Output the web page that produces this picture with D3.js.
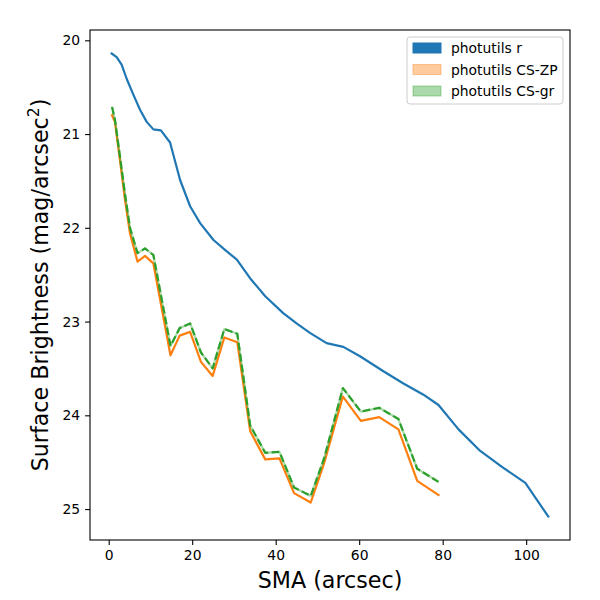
<!DOCTYPE html>
<html>
<head>
<meta charset="utf-8">
<script src="https://cdn.jsdelivr.net/npm/d3@7"></script>
<style>
body { margin: 0; background: #fff; }
text { font-family: "DejaVu Sans", sans-serif; }
</style>
</head>
<body>
<svg id="chart" width="600" height="600"></svg>
<script>
// photutils r profile
var smaR = [0.7, 1.9, 3.1, 4.3, 5.9, 7.5, 9.1, 10.7, 12.5, 14.7, 17.1, 19.5, 21.9, 25.1, 28.0, 30.7, 33.9, 37.5, 41.8, 45.0, 48.2, 52.2, 56.2, 60.2, 65.8, 70.6, 75.4, 79.0, 83.8, 89.0, 94.2, 99.8, 105.3];
var magR = [20.14, 20.18, 20.26, 20.41, 20.58, 20.74, 20.87, 20.95, 20.96, 21.09, 21.49, 21.77, 21.95, 22.13, 22.24, 22.34, 22.54, 22.73, 22.91, 23.02, 23.12, 23.23, 23.27, 23.37, 23.53, 23.66, 23.78, 23.89, 24.15, 24.38, 24.55, 24.72, 25.08];

// CS profiles
var smaCS = [0.8, 1.5, 2.7, 3.9, 5.1, 6.9, 8.7, 10.7, 14.8, 17.0, 19.5, 22.1, 24.9, 27.7, 30.8, 33.9, 37.5, 40.9, 44.4, 48.4, 51.6, 56.1, 60.4, 64.8, 69.4, 73.9, 79.0];
var magZP = [20.80, 20.87, 21.28, 21.70, 22.06, 22.36, 22.30, 22.38, 23.36, 23.15, 23.11, 23.43, 23.58, 23.17, 23.22, 24.17, 24.47, 24.46, 24.83, 24.93, 24.51, 23.80, 24.06, 24.02, 24.15, 24.70, 24.85];
var magGR = [20.71, 20.85, 21.24, 21.64, 22.00, 22.27, 22.22, 22.29, 23.26, 23.07, 23.02, 23.33, 23.50, 23.08, 23.13, 24.11, 24.40, 24.39, 24.77, 24.86, 24.46, 23.71, 23.96, 23.92, 24.04, 24.57, 24.71];

var xTicks = [0, 20, 40, 60, 80, 100];
var yTicks = [20, 21, 22, 23, 24, 25];
var legendNames = ["photutils r", "photutils CS-ZP", "photutils CS-gr"];

var svg = d3.select("#chart");
var plotL = 90, plotR = 570, plotT = 30, plotB = 540;

var x = d3.scaleLinear().domain([-4.48, 110.5]).range([plotL, plotR]);
var y = d3.scaleLinear().domain([19.89, 25.33]).range([plotT, plotB]);

var g = svg.append("g");

var line = d3.line()
    .x(function(d) { return x(d[0]); })
    .y(function(d) { return y(d[1]); });

function pairs(xs, ys) {
    return xs.map(function(v, i) { return [v, ys[i]]; });
}

// blue
g.append("path").datum(pairs(smaR, magR))
    .attr("d", line).attr("fill", "none")
    .attr("stroke", "#1f77b4").attr("stroke-width", 2.2)
    .attr("stroke-linejoin", "round").attr("stroke-linecap", "square");

// orange
g.append("path").datum(pairs(smaCS, magZP))
    .attr("d", line).attr("fill", "none")
    .attr("stroke", "#ff7f0e").attr("stroke-width", 2.2)
    .attr("stroke-linejoin", "round").attr("stroke-linecap", "square");

// green, light under line then dashed
g.append("path").datum(pairs(smaCS, magGR))
    .attr("d", line).attr("fill", "none")
    .attr("stroke", "#2ca02c").attr("stroke-opacity", 0.4).attr("stroke-width", 2.2)
    .attr("stroke-linejoin", "round");
g.append("path").datum(pairs(smaCS, magGR))
    .attr("d", line).attr("fill", "none")
    .attr("stroke", "#2ca02c").attr("stroke-width", 2.2)
    .attr("stroke-dasharray", "7.7,3.3")
    .attr("stroke-linejoin", "round");

// axes
var xAxis = d3.axisBottom(x).tickValues(xTicks).tickSize(4.9).tickPadding(4.9)
    .tickFormat(d3.format("d"));
var yAxis = d3.axisLeft(y).tickValues(yTicks).tickSize(4.9).tickPadding(4.9)
    .tickFormat(d3.format("d"));

var gx = svg.append("g").attr("transform", "translate(0," + plotB + ")").call(xAxis);
var gy = svg.append("g").attr("transform", "translate(" + plotL + ",0)").call(yAxis);
[gx, gy].forEach(function(a) {
    a.select(".domain").remove();
    a.selectAll("text").attr("font-size", 13.9).attr("fill", "#000")
        .style("font-family", "DejaVu Sans");
    a.selectAll("line").attr("stroke", "#000").attr("stroke-width", 1.1);
});

svg.append("rect").attr("x", plotL).attr("y", plotT)
    .attr("width", plotR - plotL).attr("height", plotB - plotT)
    .attr("fill", "none").attr("stroke", "#000").attr("stroke-width", 1.1);

// labels
svg.append("text").attr("x", (plotL + plotR) / 2).attr("y", 588)
    .attr("text-anchor", "middle").attr("font-size", 22.2)
    .text("SMA (arcsec)");

var yl = svg.append("text")
    .attr("transform", "translate(48," + ((plotT + plotB) / 2) + ") rotate(-90)")
    .attr("text-anchor", "middle").attr("font-size", 22.2);
yl.append("tspan").text("Surface Brightness (mag/arcsec");
yl.append("tspan").attr("font-size", 15.5).attr("dy", -9).text("2");
yl.append("tspan").attr("dy", 9).text(")");

// legend
var legColors = ["#1f77b4", "#ff7f0e", "#2ca02c"];
var legOpacity = [1, 0.4, 0.4];
var leg = svg.append("g").attr("transform", "translate(407,37)");
leg.append("rect").attr("width", 156).attr("height", 67)
    .attr("rx", 3).attr("fill", "#fff").attr("fill-opacity", 0.8)
    .attr("stroke", "#ccc").attr("stroke-width", 1);
legendNames.forEach(function(name, i) {
    var yy = 11 + i * 21.5;
    leg.append("rect").attr("x", 6).attr("y", yy - 5).attr("width", 28).attr("height", 10)
        .attr("fill", legColors[i]).attr("fill-opacity", legOpacity[i])
        .attr("stroke", legColors[i]).attr("stroke-opacity", legOpacity[i]);
    leg.append("text").attr("x", 44).attr("y", yy + 5)
        .attr("font-size", 13.9).text(name);
});
</script>
</body>
</html>
